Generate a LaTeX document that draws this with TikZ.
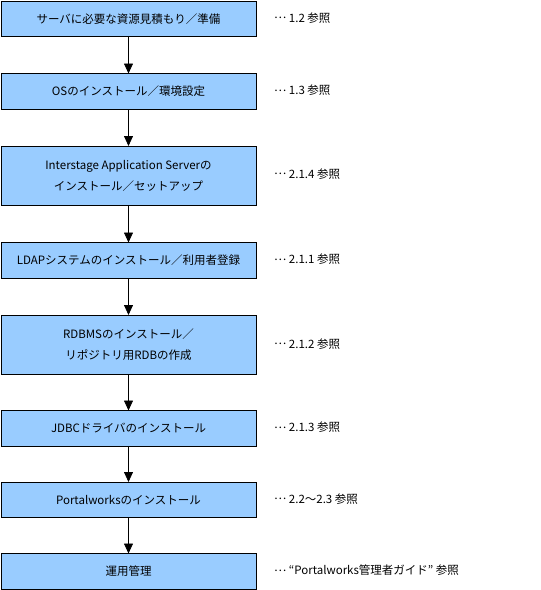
\documentclass[tikz,border=0pt]{standalone}
\usepackage{fontspec}
\setmainfont{Noto Sans CJK JP}
\usetikzlibrary{arrows.meta,positioning}
\definecolor{boxblue}{HTML}{99CCFF}
\newcommand{\leaderdots}{\raisebox{0.3em}{…}}

\begin{document}
\begin{tikzpicture}[x=1pt,y=1pt,
  block/.style={draw, thick, fill=boxblue, rectangle, minimum width=255pt, minimum height=35.5pt, align=center, inner sep=0pt, outer sep=0pt, font=\fontsize{11.5}{21}\selectfont},
  tall/.style={minimum height=59.5pt},
  ref/.style={anchor=west, inner sep=0pt, font=\fontsize{11.5}{13}\selectfont},
  >={Triangle[width=9pt,length=10pt]}
]
    \useasboundingbox (0,0) rectangle (541,-590);

    \node [block, anchor=north west] (b1) at (1,-1) {サーバに必要な資源見積もり／準備};
    \node [block, below=37pt of b1] (b2) {OSのインストール／環境設定};
    \node [block, tall, below=37pt of b2] (b3) {Interstage Application Serverの\\インストール／セットアップ};
    \node [block, below=37pt of b3] (b4) {LDAPシステムのインストール／利用者登録};
    \node [block, tall, below=37pt of b4] (b5) {RDBMSのインストール／\\リポジトリ用RDBの作成};
    \node [block, below=36pt of b5] (b6) {JDBCドライバのインストール};
    \node [block, below=36pt of b6] (b7) {Portalworksのインストール};
    \node [block, below=36pt of b7] (b8) {運用管理};

    \node [ref, right=18pt of b1.east, yshift=1pt] (r1) {\leaderdots\ 1.2\ 参照};
    \node [ref, right=18pt of b2.east, yshift=1pt] (r2) {\leaderdots\ 1.3\ 参照};
    \node [ref, right=18pt of b3.east, yshift=2pt] (r3) {\leaderdots\ 2.1.4\ 参照};
    \node [ref, right=18pt of b4.east, yshift=1pt] (r4) {\leaderdots\ 2.1.1\ 参照};
    \node [ref, right=18pt of b5.east, yshift=1pt] (r5) {\leaderdots\ 2.1.2\ 参照};
    \node [ref, right=18pt of b6.east, yshift=1pt] (r6) {\leaderdots\ 2.1.3\ 参照};
    \node [ref, right=18pt of b7.east, yshift=1pt] (r7) {\leaderdots\ 2.2〜2.3\ 参照};
    \node [ref, right=18pt of b8.east, yshift=1pt] (r8) {\leaderdots\ “Portalworks管理者ガイド”\ 参照};

  \draw[thick, ->] (b1) -- (b2);
  \draw[thick, ->] (b2) -- (b3);
  \draw[thick, ->] (b3) -- (b4);
  \draw[thick, ->] (b4) -- (b5);
  \draw[thick, ->] (b5) -- (b6);
  \draw[thick, ->] (b6) -- (b7);
  \draw[thick, ->] (b7) -- (b8);
\end{tikzpicture}
\end{document}
